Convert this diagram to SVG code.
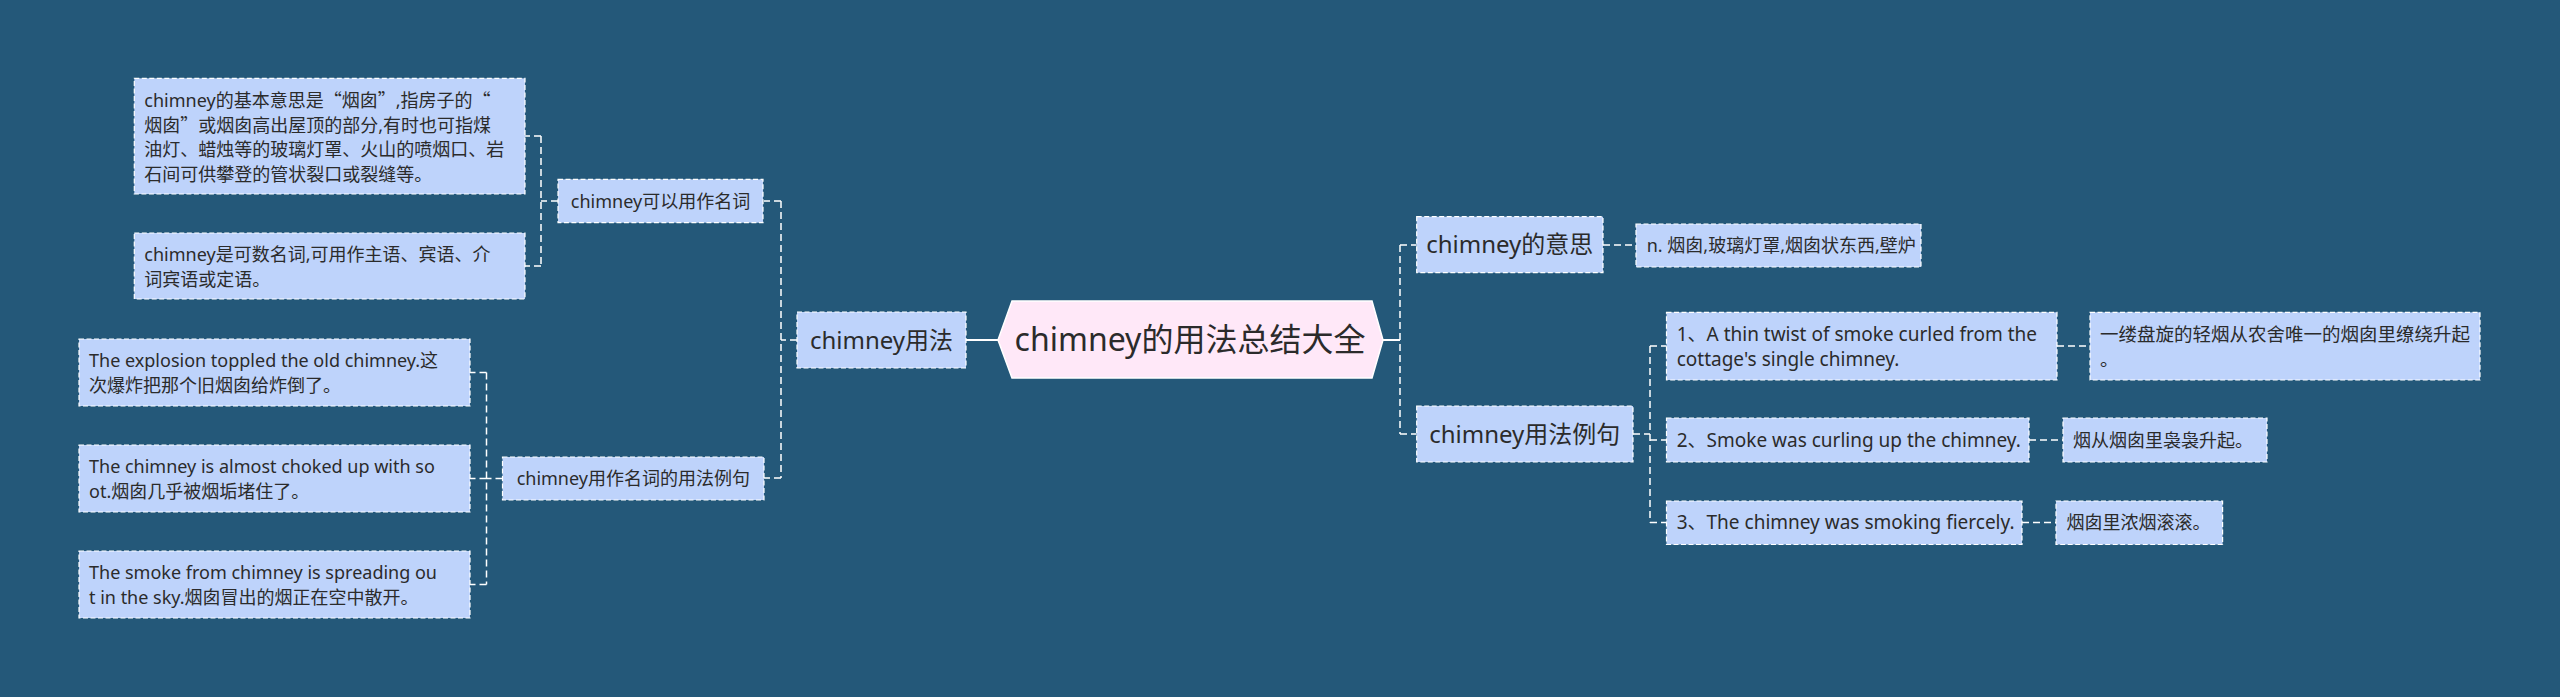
<svg xmlns="http://www.w3.org/2000/svg" width="2560" height="697" viewBox="0 0 2560 697">
<style>
.bg{fill:#245879}
.n rect{fill:#bed3fb;stroke:#ffffff;stroke-width:1.2;stroke-dasharray:5 2.5}
.t{font-family:"Noto Sans","Noto Sans CJK SC",sans-serif;fill:#2b2b2b;font-size:18px}
.t19{font-size:19px}
.t24{font-size:24px}
.c{text-anchor:middle}
.q{font-family:"Noto Sans CJK SC",sans-serif}
#connectors path{fill:none;stroke:#ffffff;stroke-width:1.5;stroke-dasharray:7 4}
#connectors path.s{stroke-dasharray:none;stroke-width:2}
</style>
<rect class="bg" x="0" y="0" width="2560" height="697"/>
<g id="connectors">
<path class="s" d="M966,340 H998"/>
<path class="s" d="M1383,340 H1400"/>
<path d="M797,340 H781 M781,201 V478 M781,201 H764 M781,478 H764"/>
<path d="M558,201 H541 M541,136 V266 M541,136 H525 M541,266 H525"/>
<path d="M502.5,478.5 H486.5 M486.5,372.5 V584.5 M486.5,372.5 H470 M486.5,478.5 H470 M486.5,584.5 H470"/>
<path d="M1400,245 V434 M1400,245 H1416.7 M1400,434 H1416.7"/>
<path d="M1603,245 H1636"/>
<path d="M1633,434 H1650 M1650,346 V522.5 M1650,346 H1666.5 M1650,440 H1666.5 M1650,522.5 H1666.5"/>
<path d="M2057,346 H2090"/>
<path d="M2029,440 H2063"/>
<path d="M2022,522.5 H2056"/>
</g>
<g id="center">
<polygon points="998,340 1012,301 1372,301 1383,340 1372,378 1012,378" fill="#ffe8f8" stroke="#ffffff" stroke-width="1.5"/>
<text class="t c" x="1190" y="351" style="font-size:32px">chimney的用法总结大全</text>
</g>
<g id="n-usage" class="n">
<rect x="797" y="312" width="169" height="56"/>
<text class="t t24 c" x="881.5" y="348.6">chimney用法</text>
</g>
<g id="n-noun" class="n">
<rect x="558" y="179.3" width="205" height="43.4"/>
<text class="t c" x="660.5" y="207.5">chimney可以用作名词</text>
</g>
<g id="n-noun-ex" class="n">
<rect x="502.5" y="457" width="261.5" height="43"/>
<text class="t c" x="633.3" y="485">chimney用作名词的用法例句</text>
</g>
<g id="d-basic" class="n">
<rect x="134.3" y="78.3" width="390.7" height="115.7"/>
<text class="t" x="144.3" y="107">chimney的基本意思是<tspan class="q">“</tspan>烟囱<tspan class="q">”</tspan>,指房子的<tspan class="q">“</tspan></text>
<text class="t" x="144.3" y="131.5">烟囱<tspan class="q">”</tspan>或烟囱高出屋顶的部分,有时也可指煤</text>
<text class="t" x="144.3" y="156">油灯、蜡烛等的玻璃灯罩、火山的喷烟口、岩</text>
<text class="t" x="144.3" y="180.5">石间可供攀登的管状裂口或裂缝等。</text>
</g>
<g id="d-count" class="n">
<rect x="134.3" y="233" width="390.7" height="66"/>
<text class="t" x="144.3" y="261">chimney是可数名词,可用作主语、宾语、介</text>
<text class="t" x="144.3" y="285.5">词宾语或定语。</text>
</g>
<g id="d-ex1" class="n">
<rect x="79" y="339" width="391" height="67"/>
<text class="t" x="89" y="367">The explosion toppled the old chimney.这</text>
<text class="t" x="89" y="391.5">次爆炸把那个旧烟囱给炸倒了。</text>
</g>
<g id="d-ex2" class="n">
<rect x="79" y="445" width="391" height="67"/>
<text class="t" x="89" y="473">The chimney is almost choked up with so</text>
<text class="t" x="89" y="497.5">ot.烟囱几乎被烟垢堵住了。</text>
</g>
<g id="d-ex3" class="n">
<rect x="79" y="551" width="391" height="67"/>
<text class="t" x="89" y="579">The smoke from chimney is spreading ou</text>
<text class="t" x="89" y="603.5">t in the sky.烟囱冒出的烟正在空中散开。</text>
</g>
<g id="n-meaning" class="n">
<rect x="1416.7" y="216.7" width="186.3" height="56"/>
<text class="t t24 c" x="1509.8" y="253.3">chimney的意思</text>
</g>
<g id="d-meaning" class="n">
<rect x="1636" y="224" width="285" height="43"/>
<text class="t" x="1646.7" y="252">n. 烟囱,玻璃灯罩,烟囱状东西,壁炉</text>
</g>
<g id="n-examples" class="n">
<rect x="1416.7" y="406" width="216.3" height="56"/>
<text class="t t24 c" x="1524.8" y="442.6">chimney用法例句</text>
</g>
<g id="e1" class="n">
<rect x="1666.5" y="312.3" width="390.5" height="67.7"/>
<text class="t t19" x="1676.7" y="340.5">1、A thin twist of smoke curled from the</text>
<text class="t t19" x="1676.7" y="365.5">cottage's single chimney.</text>
</g>
<g id="e1t" class="n">
<rect x="2090" y="312.3" width="390" height="67.7"/>
<text class="t" x="2100" y="340.5" style="font-size:18.5px">一缕盘旋的轻烟从农舍唯一的烟囱里缭绕升起</text>
<text class="t" x="2100" y="365.5" style="font-size:18.5px">。</text>
</g>
<g id="e2" class="n">
<rect x="1666.5" y="418" width="362.5" height="44"/>
<text class="t t19" x="1676.7" y="446.8">2、Smoke was curling up the chimney.</text>
</g>
<g id="e2t" class="n">
<rect x="2063" y="418" width="204" height="44"/>
<text class="t" x="2073" y="446.5">烟从烟囱里袅袅升起。</text>
</g>
<g id="e3" class="n">
<rect x="1666.5" y="501" width="355.5" height="43.5"/>
<text class="t t19" x="1676.7" y="529.3">3、The chimney was smoking fiercely.</text>
</g>
<g id="e3t" class="n">
<rect x="2056" y="501" width="166.6" height="43.5"/>
<text class="t" x="2066.5" y="529">烟囱里浓烟滚滚。</text>
</g>
</svg>
